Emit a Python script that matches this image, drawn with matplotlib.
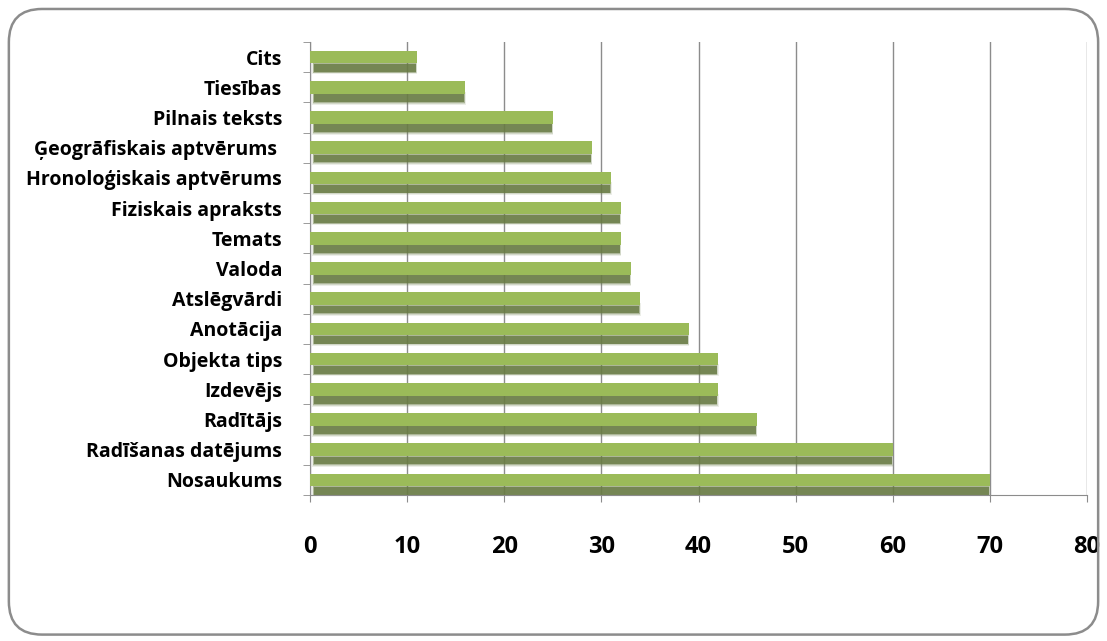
import numpy as np
import matplotlib.pyplot as plt
from matplotlib.patches import FancyBboxPatch

categories = ['Cits', 'Tiesības', 'Pilnais teksts', 'Ģeogrāfiskais aptvērums ',
              'Hronoloģiskais aptvērums', 'Fiziskais apraksts', 'Temats', 'Valoda',
              'Atslēgvārdi', 'Anotācija', 'Objekta tips', 'Izdevējs', 'Radītājs',
              'Radīšanas datējums', 'Nosaukums']
values = [11, 16, 25, 29, 31, 32, 32, 33, 34, 39, 42, 42, 46, 60, 70]
xticks = [0, 10, 20, 30, 40, 50, 60, 70, 80]

plt.rcParams['font.family'] = ['Open Sans', 'DejaVu Sans']

fig = plt.figure(figsize=(11.07, 6.41), dpi=100)
# rounded frame around the whole chart
frame = FancyBboxPatch((0.008, 0.01), 0.984, 0.976, boxstyle='round,pad=0,rounding_size=0.03',
                       transform=fig.transFigure, fill=False, edgecolor='#8c8c8c', linewidth=1.8,
                       mutation_aspect=1107 / 641)
fig.patches.append(frame)

ax = fig.add_axes([310 / 1107, 1 - 495 / 641, (1087 - 310) / 1107, (495 - 42) / 641])
y = np.arange(len(categories))
vals = np.array(values, dtype=float)

# dark shadow half, softened by stacking translucent layers
for k, a in zip([0.08, 0.05, 0.025, 0.0], [0.12, 0.2, 0.35, 0.8]):
    ax.barh(y + 0.36, vals - 0.5 + k * 4, height=0.26 + 2 * k, left=0.4 - k * 2,
            color='#687b43', alpha=a, zorder=2, linewidth=0)
ax.barh(y, vals, height=0.42, color='#9bbb59', zorder=3, linewidth=0)

ax.set_xlim(0, 80)
ax.set_ylim(len(categories) - 0.5, -0.5)
ax.set_xticks(xticks)
ax.set_xticklabels([str(t) for t in xticks], fontsize=17, fontweight='bold')
ax.tick_params(axis='x', length=5, color='#8c8c8c', pad=24)
ax.set_yticks(y)
ax.set_yticklabels(categories, fontsize=14, fontweight='bold')
ax.tick_params(axis='y', length=0, pad=20)
ax.set_yticks(np.arange(len(categories) + 1) - 0.5, minor=True)
ax.tick_params(axis='y', which='minor', length=5, color='#8c8c8c')
ax.grid(axis='x', color='#8c8c8c', linewidth=1)
ax.set_axisbelow(True)
for s in ['top', 'right']:
    ax.spines[s].set_visible(False)
for s in ['left', 'bottom']:
    ax.spines[s].set_color('#8c8c8c')

fig.savefig('out.png', dpi=100)
